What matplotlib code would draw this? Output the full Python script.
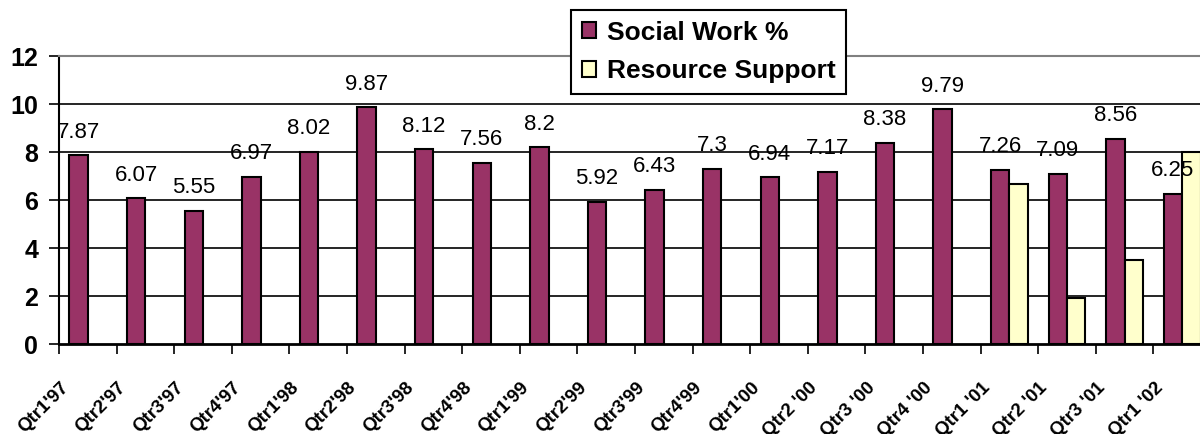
import matplotlib
matplotlib.use("Agg")
import matplotlib.pyplot as plt
import matplotlib.transforms as mtransforms
import numpy as np

plt.rcParams['font.family'] = ['Liberation Sans', 'DejaVu Sans']

quarters = ["Qtr1'97", "Qtr2'97", "Qtr3'97", "Qtr4'97", "Qtr1'98", "Qtr2'98",
            "Qtr3'98", "Qtr4'98", "Qtr1'99", "Qtr2'99", "Qtr3'99", "Qtr4'99",
            "Qtr1'00", "Qtr2 '00", "Qtr3 '00", "Qtr4 '00", "Qtr1 '01",
            "Qtr2 '01", "Qtr3 '01", "Qtr1 '02"]
social_work = [7.87, 6.07, 5.55, 6.97, 8.02, 9.87, 8.12, 7.56, 8.2, 5.92,
               6.43, 7.3, 6.94, 7.17, 8.38, 9.79, 7.26, 7.09, 8.56, 6.25]
resource_support = [np.nan] * 16 + [6.65, 1.9, 3.5, 8.0]
yticks = [0, 2, 4, 6, 8, 10, 12]

fig = plt.figure(figsize=(12, 4.34), dpi=100)
ax = fig.add_axes([59 / 1200, 1 - 344 / 434, 1152 / 1200, 288 / 434])

x = np.arange(len(quarters))
w = 0.32
b1 = ax.bar(x - w / 2, social_work, w, color='#993366', edgecolor='black',
            linewidth=1.5, label='Social Work %', zorder=3)
b2 = ax.bar(x + w / 2, resource_support, w, color='#FFFFCC', edgecolor='black',
            linewidth=1.5, label='Resource Support', zorder=3)

# value labels over the social work bars
for xi, v in zip(x, social_work):
    ax.annotate(f"{v:g}", (xi - w / 2, v), xytext=(0, 9),
                textcoords='offset points', ha='center', va='bottom',
                fontsize=16, zorder=4)

ax.set_xlim(-0.5, len(quarters) - 0.5)
ax.set_ylim(0, 12)
ax.set_yticks(yticks)
ax.set_yticklabels([str(t) for t in yticks], fontsize=18, fontweight='bold')
ax.tick_params(axis='y', length=7, width=1.2, pad=8, direction='out')

# gridlines
for t in yticks[1:-1]:
    ax.axhline(t, color='black', linewidth=1.2, zorder=1)

ax.set_xticks(x)
ax.set_xticklabels(quarters, rotation=45, ha='right', va='center',
                   rotation_mode='anchor', fontsize=13.5, fontweight='bold')
ax.tick_params(axis='x', which='major', length=0)
ax.set_xticks(np.arange(len(quarters) + 1) - 0.5, minor=True)
ax.tick_params(axis='x', which='minor', length=7, width=1.2, direction='out')

offset = mtransforms.ScaledTranslation(-0.22, -0.36, fig.dpi_scale_trans)
for lab in ax.get_xticklabels():
    lab.set_transform(lab.get_transform() + offset)

ax.spines['top'].set_color('#808080')
ax.spines['top'].set_linewidth(1.5)
ax.spines['right'].set_visible(False)
ax.spines['left'].set_linewidth(1.5)
ax.spines['bottom'].set_linewidth(2)

leg = fig.legend(handles=[b1, b2], loc='upper left',
                 bbox_to_anchor=(571 / 1200, 1 - 10 / 434), borderaxespad=0,
                 fancybox=False, edgecolor='black', framealpha=1,
                 prop={'size': 19, 'weight': 'bold'}, handlelength=0.55,
                 handleheight=0.55, handletextpad=0.4, labelspacing=0.55,
                 borderpad=0.4)
leg.get_frame().set_linewidth(1.5)

fig.savefig('out.png', dpi=100)
